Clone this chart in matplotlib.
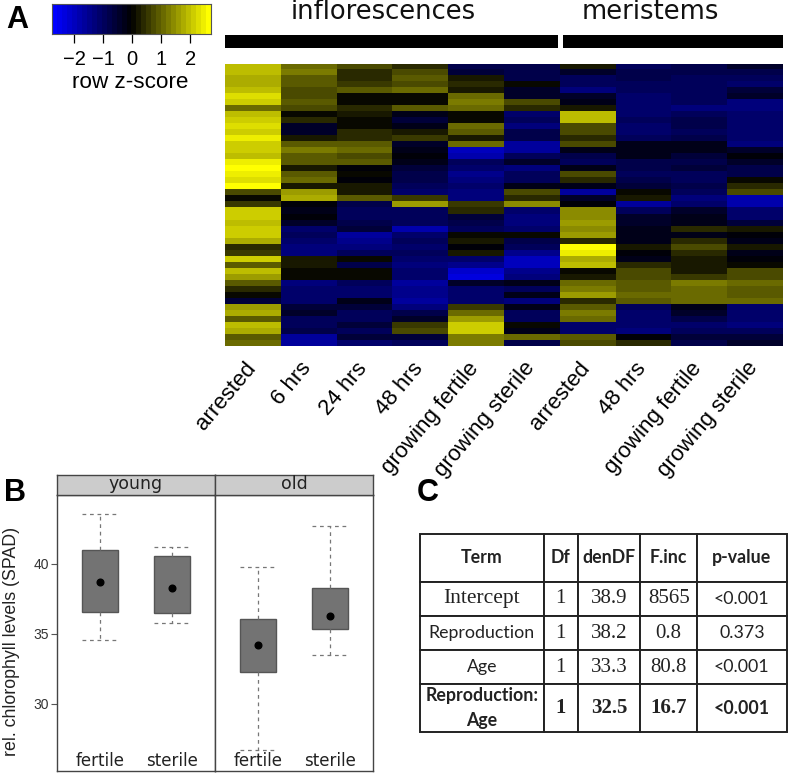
import numpy as np
import matplotlib
matplotlib.use('Agg')
import matplotlib.pyplot as plt
from matplotlib.colors import LinearSegmentedColormap

W, H = 789, 774

# Panel A: row z-scores, one list per sample
infl_arrested = [2.0,2.0,1.8,1.9,2.0,2.3,2.2,1.2,2.0,2.2,2.3,2.2,2.5,2.1,2.2,2.0,2.5,2.8,2.6,2.3,2.7,0.8,0.1,0.6,2.1,2.1,2.0,2.1,2.1,1.8,0.4,0.6,2.2,1.0,2.0,1.6,1.0,0.4,0.0,-0.6,1.6,1.8,1.0,2.0,1.9,0.9,1.2]
infl_6h = [1.2,1.4,1.0,1.0,0.7,0.8,0.9,0.7,0.0,0.4,-0.5,-0.4,0.3,1.0,1.3,1.0,1.0,0.3,1.0,1.2,0.2,1.7,1.8,-0.1,-0.2,-0.1,-0.4,-1.2,-1.0,-1.2,-1.4,-1.3,0.2,0.3,0.0,0.0,-1.3,-1.2,-1.2,-1.2,-0.6,-0.5,-0.9,-0.9,-0.8,-1.6,-1.6]
infl_24h = [0.8,0.5,0.5,0.6,1.0,0.0,0.1,0.4,0.2,0.0,0.0,0.5,0.5,1.0,1.1,0.8,0.9,-0.1,0.0,-0.1,0.2,0.2,1.0,-0.8,-1.0,-0.9,-0.8,-0.6,-1.6,-1.5,-1.4,-0.9,0.0,-0.7,0.0,0.0,-1.0,-1.1,-1.1,-0.2,-0.6,-0.9,-0.9,-0.6,-0.9,-0.6,-1.2]
infl_48h = [0.4,0.8,0.9,0.8,1.1,0.1,0.1,1.0,-0.3,-0.6,-0.3,0.3,0.6,-0.5,-0.3,-0.1,-0.2,-0.6,-0.7,-0.7,-1.0,-1.1,0.6,1.6,-1.0,-1.0,-1.0,-1.8,-1.2,-1.0,-1.2,-1.0,-1.2,-1.3,-1.2,-1.1,-1.6,-1.5,-1.5,-1.7,-1.4,-0.8,-0.4,0.6,0.7,-0.6,-1.0]
infl_fertile = [-0.8,-0.6,0.2,0.5,0.3,1.2,1.3,1.1,0.1,0.1,1.1,0.9,0.2,1.2,-2.0,-1.9,-1.0,-1.1,-1.5,-1.4,-1.2,-1.4,-1.3,0.6,0.5,-0.6,-0.8,-0.9,0.1,0.2,-0.1,0.3,-1.2,-1.5,-2.2,-2.4,-0.4,-1.1,-1.2,-1.2,0.6,1.2,1.6,2.2,2.1,1.3,1.4]
infl_sterile = [-0.8,-0.8,-0.8,0.0,-0.5,-0.4,0.7,0.5,-1.1,-1.0,-1.3,-0.8,-0.8,-1.7,-1.7,-0.9,-0.5,-1.4,-1.0,-1.0,-0.3,0.7,0.5,1.5,-1.2,-1.3,-1.3,-1.2,0.0,-0.7,-1.0,-1.5,-2.0,-2.0,-1.5,-1.4,-0.3,-0.9,-0.2,-1.4,-0.3,-1.0,-1.0,0.1,-0.3,1.2,-0.8]
mer_arrested = [0.2,-0.4,-0.9,-0.9,-1.4,-0.4,-0.2,0.3,2.0,2.0,0.8,0.7,0.5,0.8,-0.2,-0.8,-0.9,-0.2,0.8,0.5,-0.3,-1.7,-0.5,-0.1,1.5,1.5,1.7,1.5,1.7,0.4,2.8,2.6,1.8,2.0,0.1,0.3,1.1,1.4,1.6,0.4,1.0,1.3,1.2,-1.2,-1.2,0.9,0.7]
mer_48h = [-0.9,-0.8,-0.7,-1.0,-0.9,-1.1,-1.1,-1.1,-1.1,-1.0,-1.2,-1.2,-1.0,-0.3,-0.3,-0.3,-0.8,-0.7,-0.9,-0.7,-0.6,0.1,0.2,-1.6,-1.0,-0.5,-0.5,-0.3,-0.3,-0.3,0.2,-0.1,-0.2,0.5,0.8,0.8,0.9,0.9,1.1,1.0,-0.9,-1.1,-1.2,-1.2,-1.3,-0.1,0.5]
mer_fertile = [-0.8,-0.8,-0.9,-1.0,-0.9,-0.9,-0.9,-1.4,-1.0,-0.8,-0.8,-0.9,-0.8,-0.3,-0.3,-0.6,-0.7,-0.6,-0.9,-1.0,-0.7,-1.0,-1.4,-1.2,-0.4,-0.2,-0.2,0.4,-0.2,0.5,0.8,0.4,0.3,0.3,0.2,0.6,1.3,1.2,1.2,1.2,-0.3,-0.5,-0.8,-1.1,-1.0,-0.6,-0.8]
mer_sterile = [-0.5,-0.7,-0.9,-1.1,-0.6,-0.5,-1.3,-1.3,-1.1,-1.1,-1.1,-1.1,-1.1,-1.3,-0.5,-0.1,-0.5,-0.7,-0.8,0.1,0.5,0.7,-1.8,-1.8,-1.1,-1.1,-0.6,0.2,-0.1,-0.2,0.2,-0.2,-0.1,0.1,0.8,0.8,1.1,1.0,0.9,1.2,-1.2,-1.1,-1.1,-1.4,-1.0,-0.6,-0.5]
sample_labels = ['arrested', '6 hrs', '24 hrs', '48 hrs', 'growing fertile', 'growing sterile',
                 'arrested', '48 hrs', 'growing fertile', 'growing sterile']
cbar_ticks = [-2, -1, 0, 1, 2]

# Panel B: whisker low, box low, mean, box high, whisker high
young_fertile = [34.6, 36.6, 38.7, 41.0, 43.6]
young_sterile = [35.8, 36.5, 38.3, 40.6, 41.2]
old_fertile = [26.7, 32.3, 34.2, 36.1, 39.8]
old_sterile = [33.5, 35.35, 36.3, 38.3, 42.7]
box_labels = ['fertile', 'sterile']
spad_ticks = [30, 35, 40]

# Panel C
table_head = ['Term', 'Df', 'denDF', 'F.inc', 'p-value']
table_intercept = ['Intercept', '1', '38.9', '8565', '<0.001']
table_repro = ['Reproduction', '1', '38.2', '0.8', '0.373']
table_age = ['Age', '1', '33.3', '80.8', '<0.001']
table_inter = ['Reproduction:\nAge', '1', '32.5', '16.7', '<0.001']


def px_axes(left, top, right, bottom):
    return fig.add_axes([left / W, 1 - bottom / H, (right - left) / W, (bottom - top) / H])


def px_text(x, y, s, **kw):
    kw.setdefault('ha', 'center')
    kw.setdefault('va', 'center')
    return fig.text(x / W, 1 - y / H, s, **kw)


fig = plt.figure(figsize=(W / 100, H / 100), dpi=100)
sans = 'Liberation Sans'
bw = LinearSegmentedColormap.from_list('bky', ['#0000ff', '#000000', '#ffff00'], N=32)

# heatmap
ax = px_axes(225, 64, 783, 346)
heat = np.array([infl_arrested, infl_6h, infl_24h, infl_48h, infl_fertile, infl_sterile,
                 mer_arrested, mer_48h, mer_fertile, mer_sterile]).T
ax.imshow(heat, aspect='auto', cmap=bw, vmin=-2.8, vmax=2.8, interpolation='nearest')
ax.axis('off')

# group bars
px_axes(225, 35, 558, 48).set_facecolor('black')
px_axes(563, 35, 783, 48).set_facecolor('black')
for a in fig.axes[-2:]:
    a.set_xticks([])
    a.set_yticks([])
    a.spines[:].set_visible(False)
px_text(383, 12, 'inflorescences', fontsize=18.6, color='#111111')
px_text(650, 12, 'meristems', fontsize=18.6, color='#111111')

# rotated sample labels
col_w = 558 / 10
for i, lab in enumerate(sample_labels):
    px_text(225 + col_w * (i + 0.5) - 9, 358, lab, fontsize=16, family=sans, rotation=50,
            ha='right', va='top', rotation_mode='anchor')

# colour key
ax = px_axes(52, 4, 211, 34)
grad = np.linspace(-2.76, 2.72, 32)[None, :]
ax.imshow(grad, aspect='auto', cmap=bw, vmin=-2.8, vmax=2.8, extent=[-2.76, 2.72, 0, 1])
ax.set_yticks([])
ax.set_xticks(cbar_ticks)
ax.set_xticklabels(['\u2212' + str(-t) if t < 0 else str(t) for t in cbar_ticks], fontsize=14.5, family=sans)
ax.tick_params(axis='x', length=6.5, width=0.9, pad=5)
for s in ax.spines.values():
    s.set_color('#555555')
    s.set_linewidth(0.8)
px_text(130, 82, 'row z-score', fontsize=16.2, family=sans)

# panel letters
px_text(17, 20, 'A', fontsize=22, fontweight='bold', family=sans)
px_text(15, 493, 'B', fontsize=22, fontweight='bold', family=sans)
px_text(428, 493, 'C', fontsize=22, fontweight='bold', family=sans)

# Panel B boxes
panels = [(57, 215, 'young', young_fertile, young_sterile),
          (215, 373, 'old', old_fertile, old_sterile)]
edge = '#444444'
for left, right, title, fert, ster in panels:
    ax = px_axes(left, 495, right, 771)
    stats = [dict(whislo=v[0], q1=v[1], med=v[2], q3=v[3], whishi=v[4], fliers=[]) for v in (fert, ster)]
    ax.bxp(stats, positions=[1, 2], widths=0.5, patch_artist=True, showfliers=False,
           boxprops=dict(facecolor='#737373', edgecolor='#555555', linewidth=1),
           medianprops=dict(color='#737373', linewidth=0),
           whiskerprops=dict(color='#777777', linestyle=(0, (3, 3)), linewidth=0.9),
           capprops=dict(color='#777777', linestyle=(0, (3, 3)), linewidth=0.9),
           capwidths=0.49)
    ax.plot([1, 2], [fert[2], ster[2]], 'o', color='black', ms=4.8, zorder=5)
    ax.set_xlim(0.403, 2.597)
    ax.set_ylim(25.2, 44.93)
    ax.set_xticks([])
    if left == 57:
        ax.set_yticks(spad_ticks)
        ax.set_yticklabels([str(t) for t in spad_ticks], fontsize=10, family=sans, color='#333333')
        ax.tick_params(axis='y', length=4, width=0.8, color='#555555', pad=2)
    else:
        ax.set_yticks([])
    for s in ax.spines.values():
        s.set_color(edge)
        s.set_linewidth(1.0)
    for xp, lab in zip([1, 2], box_labels):
        ax.text(xp, 25.9, lab, ha='center', va='center', fontsize=12, color='#222222')
    st = px_axes(left, 474.5, right, 495)
    st.set_facecolor('#cccccc')
    st.set_xticks([])
    st.set_yticks([])
    for s in st.spines.values():
        s.set_color(edge)
        s.set_linewidth(1.0)
    st.text(0.5, 0.52, title, transform=st.transAxes, ha='center', va='center', fontsize=12.5, color='#222222')
px_text(12, 641, 'rel. chlorophyll levels (SPAD)', fontsize=12.8, family=sans, rotation=90, color='#222222')

# Panel C table
ax = px_axes(420, 534, 786.7, 732.3)
ax.axis('off')
rows = [table_intercept, table_repro, table_age, table_inter]
col_px = np.array([123.7, 34, 62.6, 56.7, 89.7])
row_px = [47.7, 34.3, 34.3, 33.7, 48.3]
tab = ax.table(cellText=rows, colLabels=table_head, colWidths=list(col_px / col_px.sum()),
               cellLoc='center', bbox=[0, 0, 1, 1])
tab.auto_set_font_size(False)
for (r, c), cell in tab.get_celld().items():
    cell.set_linewidth(1.4)
    cell.set_edgecolor('#222222')
    cell.set_height(row_px[r] / sum(row_px))
    txt = cell.get_text()
    txt.set_fontsize(12.8)
    txt.set_family('Lato')
    txt.set_color('#222222')
    if r == 0 or r == 4:
        txt.set_fontweight('bold')
    if r == 4 and c == 0:
        txt.set_linespacing(1.55)
    if r >= 1 and c in (1, 2, 3):
        txt.set_family('Liberation Serif')
        txt.set_fontsize(15)
    if r == 1 and c == 0:
        txt.set_family('Liberation Serif')
        txt.set_fontsize(15.5)

fig.savefig('out.png', dpi=100)
